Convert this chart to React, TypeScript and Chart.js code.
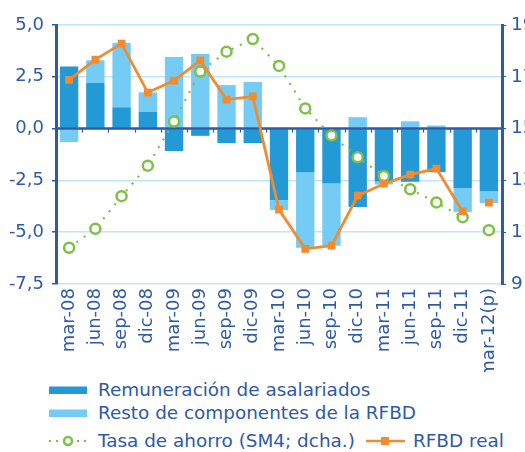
import React, { useEffect, useRef } from "react";
import { Chart, registerables } from "chart.js";

Chart.register(...registerables);

const categories = ["mar-08","jun-08","sep-08","dic-08","mar-09","jun-09","sep-09","dic-09","mar-10","jun-10","sep-10","dic-10","mar-11","jun-11","sep-11","dic-11","mar-12(p)"];
const remuneracion = [3.0, 2.2, 1.03, 0.8, -1.08, -0.35, -0.7, -0.7, -3.45, -2.1, -2.65, -3.78, -2.55, -2.57, -2.1, -2.88, -3.02];
const restoComponentes = [-0.65, 1.1, 3.1, 0.95, 3.45, 3.6, 2.1, 2.25, -0.48, -3.65, -3.0, 0.55, -0.15, 0.35, 0.15, -1.14, -0.57];
const tasaAhorro = [10.4, 11.13, 12.39, 13.57, 15.27, 17.2, 17.97, 18.46, 17.42, 15.78, 14.73, 13.89, 13.17, 12.66, 12.15, 11.58, 11.08];
const rfbdReal = [2.35, 3.33, 4.1, 1.74, 2.32, 3.29, 1.4, 1.55, -3.91, -5.8, -5.65, -3.24, -2.66, -2.22, -1.93, -4.0, -3.57];
const leftTicks = [5, 2.5, 0, -2.5, -5, -7.5];
const rightTicks = [19, 17, 15, 13, 11, 9];

const BLUE_TEXT = "#2e5aa8";
const DARK = "#2399d5";
const LIGHT = "#74cbf3";
const ORANGE = "#f28a2e";
const GREEN = "#7cc143";
const GRID = "#bfe6f7";
const FONT = "'DejaVu Sans', sans-serif";

const zeroLinePlugin = {
  id: "zeroLine",
  afterDatasetDraw(chart: any, args: any) {
    if (args.index !== 0) return;
    const { ctx, chartArea } = chart;
    const y = chart.scales.y.getPixelForValue(0);
    ctx.save();
    ctx.strokeStyle = BLUE_TEXT;
    ctx.lineWidth = 2.5;
    ctx.beginPath();
    ctx.moveTo(chartArea.left, y);
    ctx.lineTo(chartArea.right, y);
    ctx.stroke();
    ctx.lineWidth = 1.2;
    const n = categories.length;
    const w = (chartArea.right - chartArea.left) / n;
    for (let i = 1; i < n; i++) {
      const xp = Math.round(chartArea.left + i * w) + 0.5;
      ctx.beginPath();
      ctx.moveTo(xp, y);
      ctx.lineTo(xp, y + 4);
      ctx.stroke();
    }
    ctx.restore();
  },
};

export default function App() {
  const ref = useRef<HTMLCanvasElement>(null);
  useEffect(() => {
    document.body.style.margin = "0";
    const hideLast = (color: string) => (ctx: any) => (ctx.p1DataIndex === categories.length - 1 ? "transparent" : color);
    const chart = new Chart(ref.current!, {
      type: "bar",
      data: {
        labels: categories,
        datasets: [
          { type: "bar", label: "Remuneración de asalariados", data: remuneracion, backgroundColor: DARK, stack: "s", order: 2, yAxisID: "y", barPercentage: 0.7, categoryPercentage: 1 },
          { type: "bar", label: "Resto de componentes de la RFBD", data: restoComponentes, backgroundColor: LIGHT, stack: "s", order: 3, yAxisID: "y", barPercentage: 0.7, categoryPercentage: 1 },
          { type: "line", label: "Tasa de ahorro (SM4; dcha.)", data: tasaAhorro, yAxisID: "y1", stack: "g", order: 1, borderColor: GREEN, borderWidth: 2.2, borderDash: [2, 7], pointStyle: "circle", pointRadius: 5, pointBorderWidth: 2.5, pointBackgroundColor: "#ffffff", pointBorderColor: GREEN, segment: { borderColor: hideLast(GREEN) } } as any,
          { type: "line", label: "RFBD real", data: rfbdReal, yAxisID: "y", stack: "o", order: 0, borderColor: ORANGE, borderWidth: 2.8, pointStyle: "rect", pointRadius: 5.5, pointBackgroundColor: ORANGE, pointBorderColor: ORANGE, pointBorderWidth: 0, segment: { borderColor: hideLast(ORANGE) } } as any,
        ],
      },
      options: {
        animation: false,
        responsive: true,
        maintainAspectRatio: false,
        layout: { padding: { top: 25, left: 0, right: 0, bottom: 0 } },
        plugins: { legend: { display: false }, tooltip: { enabled: false } },
        scales: {
          x: {
            stacked: true,
            offset: true,
            grid: { display: false, drawTicks: false },
            border: { display: false },
            ticks: { color: BLUE_TEXT, font: { family: FONT, size: 18 }, minRotation: 90, maxRotation: 90, padding: 4, autoSkip: false },
            afterFit: (s: any) => { s.height = 88; },
          },
          y: {
            stacked: true,
            position: "left",
            min: -7.5,
            max: 5,
            afterBuildTicks: (s: any) => { s.ticks = leftTicks.map((v) => ({ value: v })); },
            grid: { color: GRID, lineWidth: 1.5, tickColor: BLUE_TEXT, tickLength: 4 },
            border: { color: BLUE_TEXT, width: 3 },
            ticks: { color: BLUE_TEXT, font: { family: FONT, size: 18 }, padding: 8, callback: (v: any) => Number(v).toFixed(1).replace(".", ",") },
            afterFit: (s: any) => { s.width = 56; },
          },
          y1: {
            position: "right",
            min: 9,
            max: 19,
            afterBuildTicks: (s: any) => { s.ticks = rightTicks.map((v) => ({ value: v })); },
            grid: { drawOnChartArea: false, tickColor: BLUE_TEXT, tickLength: 4 },
            border: { color: BLUE_TEXT, width: 3 },
            ticks: { color: BLUE_TEXT, font: { family: FONT, size: 18.5 }, padding: 5, callback: (v: any) => String(v) },
            afterFit: (s: any) => { s.width = 23; },
          },
        },
      },
      plugins: [zeroLinePlugin],
    });
    return () => chart.destroy();
  }, []);

  const textStyle: React.CSSProperties = { fontFamily: FONT, fontSize: 18.4, color: BLUE_TEXT, lineHeight: "20px", whiteSpace: "nowrap" };
  const row = (top: number, children: React.ReactNode) => (
    <div style={{ position: "absolute", left: 0, top: top - 10, height: 20, display: "flex", alignItems: "center" }}>{children}</div>
  );
  const barIcon = (color: string) => (
    <svg width={38} height={20} style={{ marginLeft: 49, marginRight: 11 }}>
      <rect x={0} y={6.5} width={38} height={7.5} fill={color} />
    </svg>
  );

  return (
    <div style={{ position: "relative", width: 525, height: 452 }}>
      <div style={{ position: "absolute", left: 0, top: 0, width: 525, height: 372 }}>
        <canvas ref={ref} />
      </div>
      {row(390, <>{barIcon(DARK)}<span style={textStyle}>Remuneración de asalariados</span></>)}
      {row(413, <>{barIcon(LIGHT)}<span style={textStyle}>Resto de componentes de la RFBD</span></>)}
      {row(441, <>
        <svg width={38} height={20} style={{ marginLeft: 49, marginRight: 11 }}>
          <line x1={0} y1={10} x2={38} y2={10} stroke={GREEN} strokeWidth={2} strokeDasharray="2 5" />
          <circle cx={19} cy={10} r={4} fill="#fff" stroke={GREEN} strokeWidth={2.5} />
        </svg>
        <span style={textStyle}>Tasa de ahorro (SM4; dcha.)</span>
        <svg width={39} height={20} style={{ position: "absolute", left: 366 }}>
          <line x1={0} y1={10} x2={39} y2={10} stroke={ORANGE} strokeWidth={2.5} />
          <rect x={15} y={6} width={8} height={8} fill={ORANGE} />
        </svg>
        <span style={{ ...textStyle, position: "absolute", left: 413 }}>RFBD real</span>
      </>)}
    </div>
  );
}
